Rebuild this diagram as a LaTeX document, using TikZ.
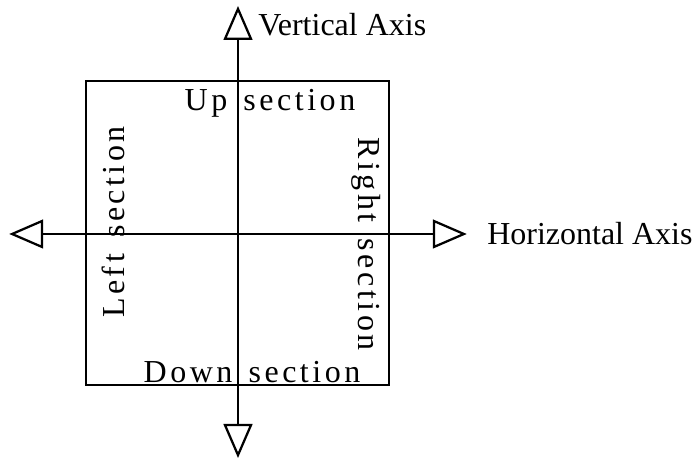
\documentclass[tikz,border=0pt]{standalone}
\usepackage{fontspec}
\setmainfont{Liberation Serif}
\newfontfamily\spacedfont[LetterSpace=11, WordSpace=1.4]{Liberation Serif}
\usetikzlibrary{arrows.meta, positioning}

\begin{document}
\begin{tikzpicture}[
            axis/.style={{Triangle[open, length=0.85cm, width=0.72cm]}-{Triangle[open, length=0.85cm, width=0.72cm]}, line width=1.6pt, black},
            frame/.style={draw, line width=0.75pt, minimum width=7.575cm, minimum height=7.6cm, inner sep=0pt, outer sep=0pt},
            lbl/.style={inner sep=0pt, anchor=base, font=\fontsize{22.76}{27}\selectfont},
            sec/.style={lbl, font=\fontsize{22.76}{27}\spacedfont}
        ]
            \useasboundingbox (-5.95,-5.675) rectangle (11.45,5.85);

            \node[frame] (box) at (-0.0125,0.025) {};

            \coordinate (top) at (0,5.7);
            \coordinate (bottom) at (0,-5.6);
            \coordinate (left) at (-5.72,0);
            \coordinate (right) at (5.72,0);

            \draw[axis] (bottom) -- (top);
            \draw[axis] (left) -- (right);

            \node[lbl, anchor=base west] (vlabel) at (0.5,4.95) {Vertical Axis};
            \node[lbl, anchor=base west] (hlabel) at (6.225,-0.275) {Horizontal Axis};

            \node[sec] (up) at (0.8,3.075) {Up section};
            \node[sec] (down) at (0.35,-3.725) {Down section};
            \node[sec, rotate=90] (leftsec) at (-2.825,0.3) {Left section};
            \node[sec, rotate=-90] (rightsec) at (3.0,-0.25) {Right section};
        \end{tikzpicture}
\end{document}
